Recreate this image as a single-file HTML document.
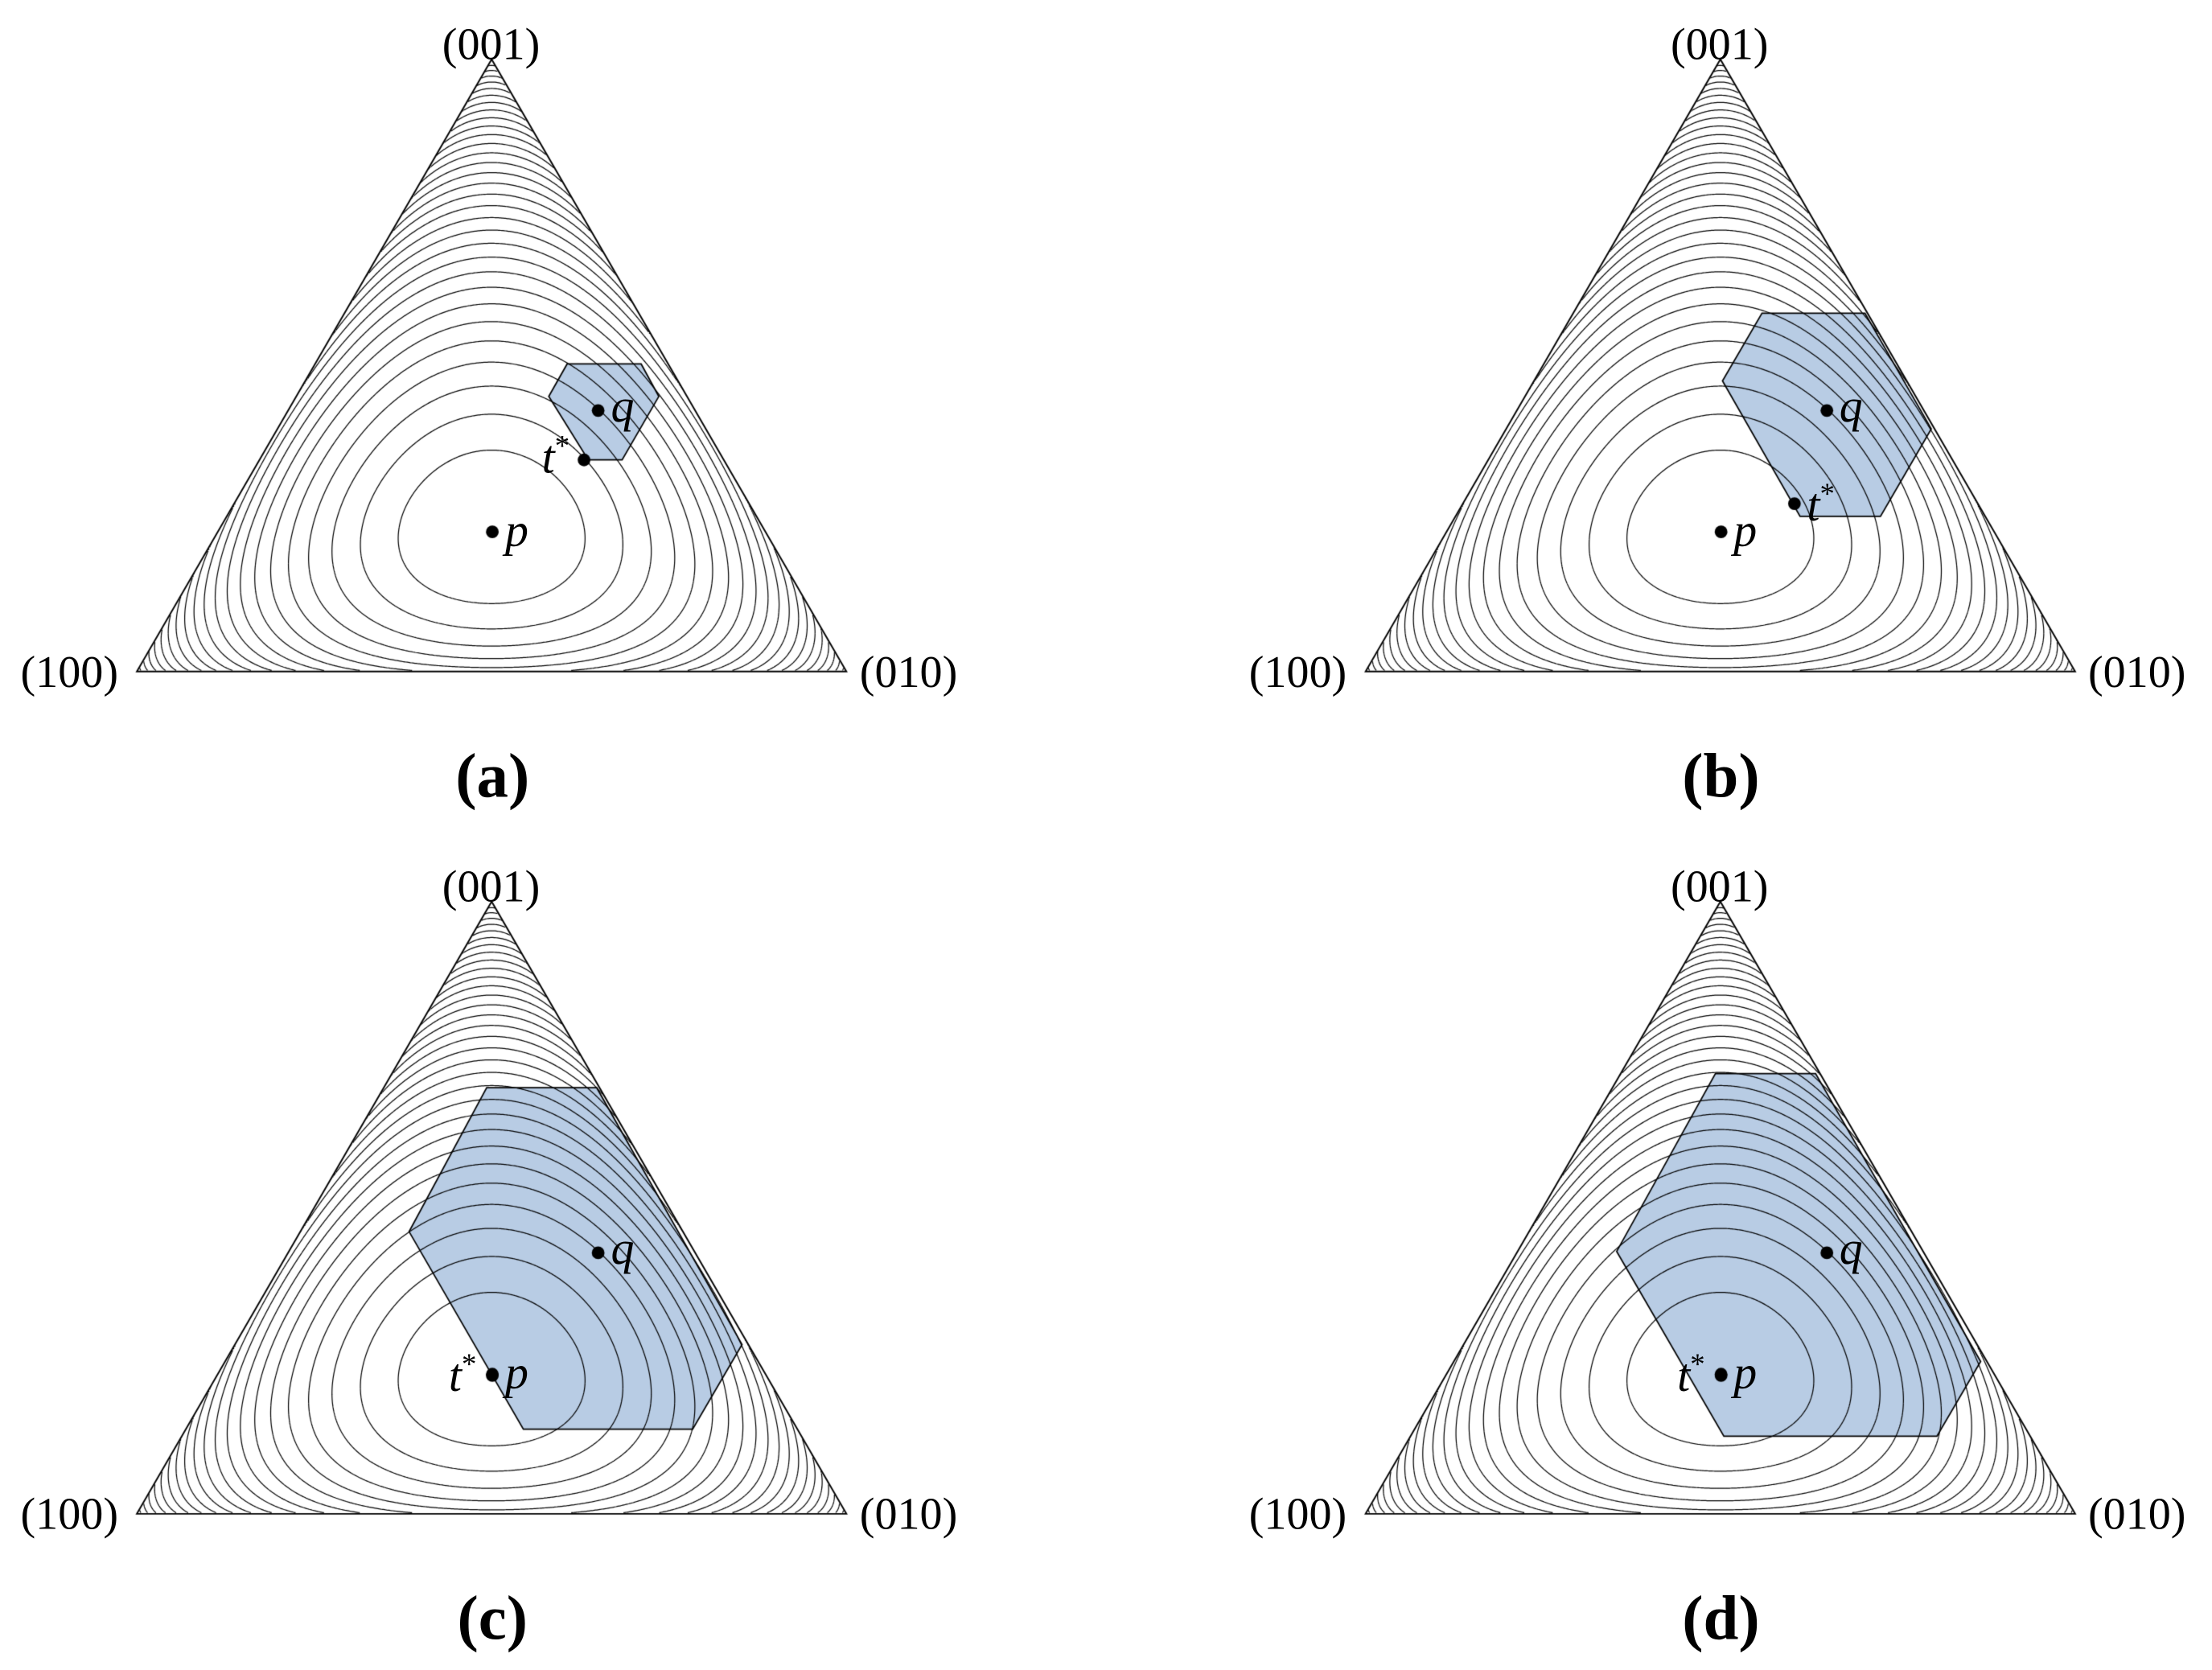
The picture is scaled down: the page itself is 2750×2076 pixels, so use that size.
<!DOCTYPE html>
<html><head><meta charset="utf-8"><style>
html,body{margin:0;padding:0;background:#fff;}
#w{position:relative;width:2750px;height:2076px;overflow:hidden;}
canvas,svg{position:absolute;left:0;top:0;}
</style></head><body><div id="w">
<canvas id="c" width="2750" height="2076"></canvas>
<svg width="2750" height="2076" viewBox="0 0 1568 1184" font-family="Liberation Serif, serif">
<g font-size="32" text-anchor="middle">
<text x="348" y="42">(001)</text><text x="49" y="487">(100)</text><text x="644" y="487">(010)</text>
<text x="1219" y="42">(001)</text><text x="920" y="487">(100)</text><text x="1515" y="487">(010)</text>
<text x="348" y="639">(001)</text><text x="49" y="1084">(100)</text><text x="644" y="1084">(010)</text>
<text x="1219" y="639">(001)</text><text x="920" y="1084">(100)</text><text x="1515" y="1084">(010)</text>
</g>
<g font-size="45" font-weight="bold" text-anchor="middle">
<text x="349" y="565">(a)</text><text x="1220" y="565">(b)</text>
<text x="349" y="1162">(c)</text><text x="1220" y="1162">(d)</text>
</g>
<g font-size="33" font-style="italic">
<text x="358" y="387">p</text><text x="433" y="299">q</text><text x="384" y="335">t<tspan font-size="21" dy="-12" font-style="normal">*</tspan></text>
<text x="1229" y="387">p</text><text x="1304" y="299">q</text><text x="1281" y="369">t<tspan font-size="21" dy="-12" font-style="normal">*</tspan></text>
<text x="358" y="984">p</text><text x="433" y="896">q</text><text x="318" y="986">t<tspan font-size="21" dy="-12" font-style="normal">*</tspan></text>
<text x="1229" y="984">p</text><text x="1304" y="896">q</text><text x="1189" y="986">t<tspan font-size="21" dy="-12" font-style="normal">*</tspan></text>
</g>
</svg>
</div>
<script>
const cv=document.getElementById('c'),ctx=cv.getContext('2d');
const S=2750/1568;ctx.scale(S,S);
const P=[.386,.386,.228];
const panels=[
 {ox:0,oy:0,hex:[[402,258],[454.5,258],[467,281],[441,326],[417,326],[389,281]],t:[414,326]},
 {ox:871,oy:0,hex:[[1249,222],[1322,222],[1369,304],[1333,366],[1276,366],[1221,270]],t:[1272,357]},
 {ox:0,oy:597,hex:[[345,771],[423,771],[526,953],[491,1013],[371,1013],[290,873]],t:[349,975]},
 {ox:871,oy:597,hex:[[1216,761],[1287,761],[1404,965],[1373,1018],[1222,1018],[1146,887]],t:[1220,975]}
];
function g(px,py,ox,oy){
 const x3=(oy+476-py)/434;
 if(x3<=0)return NaN;
 const half=(1-x3)*251.5;
 const cx=ox+348.5;
 const x2=(px-cx+half)/503;
 const x1=1-x3-x2;
 if(x1<=0||x2<=0||x3<=0)return NaN;
 return x1*Math.log(x1/P[0])+x2*Math.log(x2/P[1])+x3*Math.log(x3/P[2]);
}
const step=0.0455;
for(const pn of panels){
 const {ox,oy}=pn;
 ctx.beginPath();pn.hex.forEach((p,i)=>i?ctx.lineTo(p[0],p[1]):ctx.moveTo(p[0],p[1]));ctx.closePath();
 ctx.fillStyle='#b8cce4';ctx.fill();
 const x0=ox+95,y0=oy+40,W=510,H=440,h=0.8;
 const nx=Math.ceil(W/h),ny=Math.ceil(H/h);
 const G=new Float64Array((nx+1)*(ny+1));
 for(let j=0;j<=ny;j++)for(let i=0;i<=nx;i++)G[j*(nx+1)+i]=g(x0+i*h,y0+j*h,ox,oy);
 ctx.beginPath();
 for(let j=0;j<ny;j++)for(let i=0;i<nx;i++){
  const a=G[j*(nx+1)+i],b=G[j*(nx+1)+i+1],c=G[(j+1)*(nx+1)+i+1],d=G[(j+1)*(nx+1)+i];
  if(isNaN(a)||isNaN(b)||isNaN(c)||isNaN(d))continue;
  const mn=Math.min(a,b,c,d),mx=Math.max(a,b,c,d);
  for(let k=Math.ceil(mn/step);k*step<mx;k++){
   const L=k*step;if(L<=0)continue;
   const X=x0+i*h,Y=y0+j*h,pts=[];
   if((a<L)!=(b<L))pts.push([X+h*(L-a)/(b-a),Y]);
   if((b<L)!=(c<L))pts.push([X+h,Y+h*(L-b)/(c-b)]);
   if((d<L)!=(c<L))pts.push([X+h*(L-d)/(c-d),Y+h]);
   if((a<L)!=(d<L))pts.push([X,Y+h*(L-a)/(d-a)]);
   for(let q=0;q+1<pts.length;q+=2){ctx.moveTo(pts[q][0],pts[q][1]);ctx.lineTo(pts[q+1][0],pts[q+1][1]);}
  }
 }
 ctx.strokeStyle='#000';ctx.lineWidth=0.7;ctx.stroke();
 ctx.beginPath();pn.hex.forEach((p,i)=>i?ctx.lineTo(p[0],p[1]):ctx.moveTo(p[0],p[1]));ctx.closePath();
 ctx.strokeStyle='#000';ctx.lineWidth=1;ctx.stroke();
 ctx.beginPath();ctx.moveTo(ox+97,oy+476);ctx.lineTo(ox+600,oy+476);ctx.lineTo(ox+348.5,oy+42);ctx.closePath();
 ctx.strokeStyle='#000';ctx.lineWidth=1.1;ctx.stroke();
 ctx.fillStyle='#000';
 for(const p of [[ox+349,oy+377],[ox+424,oy+291],pn.t]){ctx.beginPath();ctx.arc(p[0],p[1],4.5,0,7);ctx.fill();}
}
</script>
</body></html>
